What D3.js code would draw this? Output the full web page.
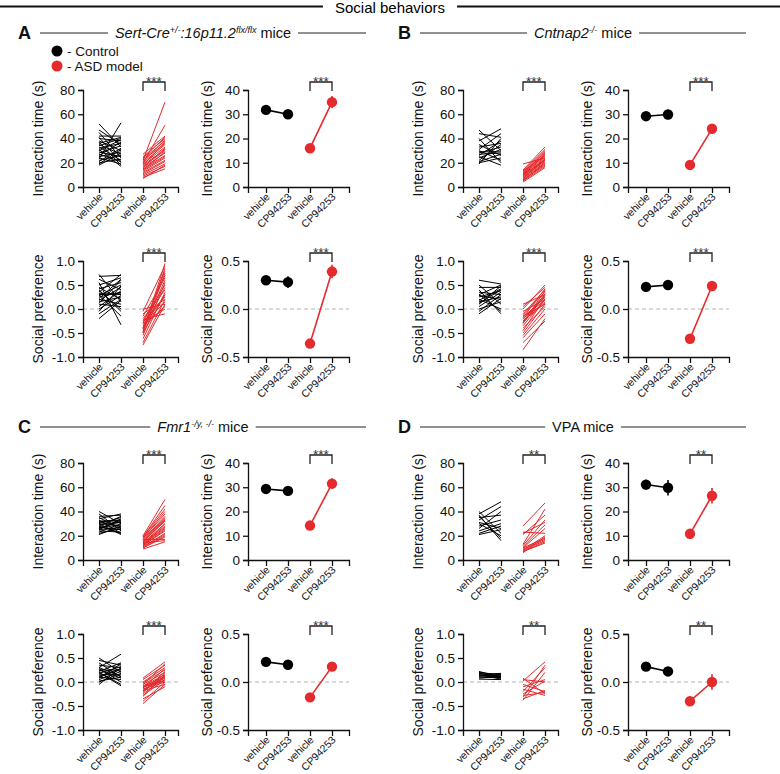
<!DOCTYPE html>
<html><head><meta charset="utf-8">
<script src="https://cdn.jsdelivr.net/npm/d3@7"></script>
<style>
body{margin:0;background:#fff}
text{font-family:"Liberation Sans",Arial,Helvetica,sans-serif}
</style>
</head><body>
<svg id="c" width="780" height="774"></svg>
<script>
// ---------------- DATA ----------------
const groupLabels = ["vehicle", "CP94253", "vehicle", "CP94253"];
const legendLabels = ["- Control", "- ASD model"];
const panelLetters = ["A", "B", "C", "D"];
const sigLabels = ["***", "***", "***", "**"];
const itTicks = [0, 20, 40, 60, 80];
const itMeanTicks = [0, 10, 20, 30, 40];
const spTicks = [-1, -0.5, 0, 0.5, 1];
const spMeanTicks = [-0.5, 0, 0.5];
const yTitleIT = "Interaction time (s)";
const yTitleSP = "Social preference";

// Panel A: Sert-Cre+/-:16p11.2 flx/flx
const A_itCtrlVeh = [52, 47, 45, 42, 41, 40, 38, 37, 36, 35, 34, 33, 32, 31, 30, 29, 28, 27, 26, 25, 24, 23, 22, 21, 20, 19, 18];
const A_itCtrlCp  = [33, 35, 24, 42, 20, 38, 30, 18, 41, 27, 40, 22, 36, 17, 39, 25, 34, 21, 37, 29, 19, 53, 26, 32, 23, 31, 28];
const A_itAsdVeh  = [22, 20, 27, 25, 24, 23, 22, 21, 20, 19, 18, 17, 16, 16, 15, 14, 14, 13, 12, 11, 10, 9, 8, 7, 18];
const A_itAsdCp   = [70, 51, 42, 40, 41, 38, 36, 39, 35, 33, 37, 30, 28, 32, 26, 29, 25, 24, 22, 21, 19, 17, 15, 18, 31];
const A_spCtrlVeh = [0.72, 0.68, 0.62, 0.55, 0.5, 0.45, 0.42, 0.38, 0.35, 0.32, 0.3, 0.28, 0.25, 0.22, 0.2, 0.18, 0.15, 0.12, 0.1, 0.05, 0.0, -0.05, -0.1, -0.2, 0.4, 0.3];
const A_spCtrlCp  = [0.15, 0.7, 0.4, -0.33, 0.65, 0.2, 0.55, 0.0, 0.72, 0.3, -0.15, 0.5, 0.35, 0.62, 0.1, 0.45, 0.25, 0.6, 0.05, 0.38, 0.28, 0.48, 0.2, 0.18, -0.05, 0.33];
const A_spAsdVeh  = [-0.75, -0.7, -0.62, -0.55, -0.5, -0.48, -0.45, -0.42, -0.4, -0.38, -0.35, -0.33, -0.3, -0.28, -0.25, -0.22, -0.2, -0.15, -0.1, -0.05, 0.0, -0.3, -0.4, -0.5];
const A_spAsdCp   = [0.1, 0.2, 0.35, 0.55, 0.75, 0.95, 0.85, 0.6, 0.45, 0.3, 0.05, 0.15, 0.7, 0.25, 0.5, -0.1, 0.4, 0.65, 0.2, 0.9, 0.1, 0.0, 0.8, 0.3];
const A_itMeanCtrl = [31.8, 30.0], A_itSemCtrl = [1.5, 1.3];
const A_itMeanAsd  = [16.0, 35.0], A_itSemAsd  = [0.8, 2.5];
const A_spMeanCtrl = [0.30, 0.28], A_spSemCtrl = [0.05, 0.06];
const A_spMeanAsd  = [-0.36, 0.39], A_spSemAsd = [0.03, 0.07];

// Panel B: Cntnap2-/-
const B_itCtrlVeh = [47, 44, 40, 38, 35, 33, 31, 30, 28, 27, 26, 25, 24, 22, 21, 20, 19, 29];
const B_itCtrlCp  = [30, 41, 20, 48, 26, 36, 44, 22, 33, 28, 38, 18, 31, 35, 27, 24, 40, 29];
const B_itAsdVeh  = [19, 14, 13, 12, 12, 11, 11, 10, 10, 9, 9, 8, 8, 7, 7, 6, 6, 5, 5, 4, 13, 10];
const B_itAsdCp   = [24, 33, 31, 30, 28, 29, 26, 27, 25, 24, 23, 22, 21, 23, 20, 19, 18, 17, 20, 16, 26, 22];
const B_spCtrlVeh = [0.6, 0.5, 0.45, 0.4, 0.35, 0.3, 0.28, 0.25, 0.2, 0.18, 0.15, 0.1, 0.05, 0.0, -0.05, -0.1, 0.3, 0.12];
const B_spCtrlCp  = [0.52, 0.1, 0.45, -0.1, 0.3, 0.5, 0.2, 0.38, 0.0, 0.42, 0.25, 0.48, 0.35, 0.15, 0.3, 0.22, -0.05, 0.4];
const B_spAsdVeh  = [0.1, 0.05, 0.0, -0.05, -0.1, -0.12, -0.15, -0.18, -0.2, -0.22, -0.25, -0.28, -0.3, -0.35, -0.4, -0.45, -0.5, -0.55, -0.6, -0.7, -0.85, -0.3, -0.15, -0.25];
const B_spAsdCp   = [0.3, 0.45, 0.5, 0.2, 0.4, 0.35, 0.1, 0.42, 0.25, 0.3, 0.15, 0.38, 0.28, 0.2, 0.05, 0.22, 0.1, 0.0, -0.1, -0.25, -0.2, 0.32, 0.18, 0.12];
const B_itMeanCtrl = [29.2, 29.9], B_itSemCtrl = [1.5, 2.0];
const B_itMeanAsd  = [9.1, 24.0],  B_itSemAsd  = [0.8, 1.0];
const B_spMeanCtrl = [0.23, 0.25], B_spSemCtrl = [0.04, 0.03];
const B_spMeanAsd  = [-0.31, 0.24], B_spSemAsd = [0.05, 0.03];

// Panel C: Fmr1-/y, -/-
const C_itCtrlVeh = [40, 38, 36, 35, 34, 33, 32, 31, 30, 30, 29, 28, 27, 27, 26, 25, 25, 24, 23, 22, 21, 28, 32, 26];
const C_itCtrlCp  = [30, 24, 37, 26, 38, 22, 33, 28, 35, 21, 31, 36, 25, 29, 32, 27, 34, 23, 30, 26, 28, 22, 31, 33];
const C_itAsdVeh  = [20, 19, 19, 18, 18, 17, 16, 16, 15, 15, 14, 14, 13, 13, 12, 12, 11, 11, 10, 10, 9, 17, 14, 12];
const C_itAsdCp   = [50, 45, 42, 40, 38, 36, 35, 34, 33, 32, 30, 28, 27, 26, 25, 24, 22, 21, 20, 19, 15, 17, 16, 30];
const C_spCtrlVeh = [0.5, 0.45, 0.4, 0.35, 0.3, 0.28, 0.25, 0.22, 0.2, 0.18, 0.15, 0.12, 0.1, 0.08, 0.05, 0.02, 0.0, -0.05, 0.3, 0.2, 0.1, 0.25];
const C_spCtrlCp  = [0.2, 0.35, 0.1, 0.3, 0.58, 0.0, 0.25, 0.4, -0.08, 0.32, 0.15, 0.28, 0.05, 0.38, 0.22, 0.1, 0.18, 0.3, 0.12, -0.05, 0.26, 0.08];
const C_spAsdVeh  = [0.08, 0.05, 0.0, -0.02, -0.05, -0.08, -0.1, -0.1, -0.12, -0.15, -0.15, -0.18, -0.2, -0.22, -0.25, -0.28, -0.3, -0.35, -0.4, -0.45, -0.12, -0.18, -0.05, -0.1];
const C_spAsdCp   = [0.42, 0.35, 0.3, 0.25, 0.2, 0.15, 0.12, 0.1, 0.08, 0.05, 0.0, -0.05, 0.18, 0.22, 0.1, 0.05, 0.15, -0.1, 0.0, -0.05, 0.28, 0.1, 0.38, 0.02];
const C_itMeanCtrl = [29.3, 28.5], C_itSemCtrl = [0.9, 1.0];
const C_itMeanAsd  = [14.2, 31.5], C_itSemAsd  = [0.7, 2.2];
const C_spMeanCtrl = [0.21, 0.18], C_spSemCtrl = [0.03, 0.03];
const C_spMeanAsd  = [-0.16, 0.16], C_spSemAsd = [0.03, 0.03];

// Panel D: VPA
const D_itCtrlVeh = [40, 38, 37, 35, 33, 31, 30, 28, 26, 24, 22, 21, 36];
const D_itCtrlCp  = [22, 48, 16, 37, 44, 26, 20, 33, 40, 30, 28, 25, 18];
const D_itAsdVeh  = [28, 23, 21, 13, 12, 11, 10, 10, 9, 8, 8, 7, 7, 6, 22];
const D_itAsdCp   = [47, 22, 37, 42, 33, 29, 18, 26, 17, 16, 20, 15, 14, 19, 31];
const D_spCtrlVeh = [0.22, 0.2, 0.19, 0.18, 0.16, 0.15, 0.14, 0.13, 0.12, 0.1, 0.08, 0.06];
const D_spCtrlCp  = [0.1, 0.15, 0.08, 0.12, 0.18, 0.06, 0.14, 0.1, 0.16, 0.09, 0.12, 0.05];
const D_spAsdVeh  = [0.08, 0.05, 0.02, -0.05, -0.1, -0.15, -0.2, -0.25, -0.28, -0.32, -0.35, -0.38];
const D_spAsdCp   = [-0.25, 0.0, 0.42, -0.2, 0.05, -0.28, 0.3, 0.02, -0.22, 0.35, -0.18, 0.2];
const D_itMeanCtrl = [31.1, 29.8], D_itSemCtrl = [2.0, 3.2];
const D_itMeanAsd  = [10.8, 26.5], D_itSemAsd  = [2.0, 3.2];
const D_spMeanCtrl = [0.16, 0.11], D_spSemCtrl = [0.02, 0.02];
const D_spMeanAsd  = [-0.20, 0.0], D_spSemAsd  = [0.05, 0.08];

// ---------------- DRAWING ----------------
const RED = "#e42a2d";
const svg = d3.select("#c");

const panels = [
  {letter: panelLetters[0], px: 0, py: 0, hy: 33, sig: sigLabels[0],
   title: [["Sert-Cre", "i"], ["+/-", "is"], [":16p11.2", "i"], ["flx/flx", "is"], [" mice", "n"]],
   it: [A_itCtrlVeh, A_itCtrlCp, A_itAsdVeh, A_itAsdCp], sp: [A_spCtrlVeh, A_spCtrlCp, A_spAsdVeh, A_spAsdCp],
   itM: [A_itMeanCtrl, A_itSemCtrl, A_itMeanAsd, A_itSemAsd], spM: [A_spMeanCtrl, A_spSemCtrl, A_spMeanAsd, A_spSemAsd]},
  {letter: panelLetters[1], px: 380, py: 0, hy: 33, sig: sigLabels[1],
   title: [["Cntnap2", "i"], ["-/-", "is"], [" mice", "n"]],
   it: [B_itCtrlVeh, B_itCtrlCp, B_itAsdVeh, B_itAsdCp], sp: [B_spCtrlVeh, B_spCtrlCp, B_spAsdVeh, B_spAsdCp],
   itM: [B_itMeanCtrl, B_itSemCtrl, B_itMeanAsd, B_itSemAsd], spM: [B_spMeanCtrl, B_spSemCtrl, B_spMeanAsd, B_spSemAsd]},
  {letter: panelLetters[2], px: 0, py: 373, hy: 54, sig: sigLabels[2],
   title: [["Fmr1", "i"], ["-/y, -/-", "is"], [" mice", "n"]],
   it: [C_itCtrlVeh, C_itCtrlCp, C_itAsdVeh, C_itAsdCp], sp: [C_spCtrlVeh, C_spCtrlCp, C_spAsdVeh, C_spAsdCp],
   itM: [C_itMeanCtrl, C_itSemCtrl, C_itMeanAsd, C_itSemAsd], spM: [C_spMeanCtrl, C_spSemCtrl, C_spMeanAsd, C_spSemAsd]},
  {letter: panelLetters[3], px: 380, py: 373, hy: 54, sig: sigLabels[3],
   title: [["VPA mice", "n"]],
   it: [D_itCtrlVeh, D_itCtrlCp, D_itAsdVeh, D_itAsdCp], sp: [D_spCtrlVeh, D_spCtrlCp, D_spAsdVeh, D_spAsdCp],
   itM: [D_itMeanCtrl, D_itSemCtrl, D_itMeanAsd, D_itSemAsd], spM: [D_spMeanCtrl, D_spSemCtrl, D_spMeanAsd, D_spSemAsd]}
];

// Main title
{
  const t = svg.append("text").attr("x", 390).attr("y", 12.5).attr("text-anchor", "middle")
    .attr("font-size", 15).text("Social behaviors");
  const w = t.node().getComputedTextLength();
  svg.append("line").attr("x1", 0).attr("x2", 390 - w / 2 - 12).attr("y1", 6.5).attr("y2", 6.5)
    .attr("stroke", "#111").attr("stroke-width", 2);
  svg.append("line").attr("x1", 390 + w / 2 + 12).attr("x2", 780).attr("y1", 6.5).attr("y2", 6.5)
    .attr("stroke", "#111").attr("stroke-width", 2);
}

function fmtTick(row) {
  return row === "it" ? (d => String(d)) : (d => d.toFixed(1));
}

function drawPlot(g, kind, row, values, sig) {
  const ax = kind === "ind" ? 83 : 248, ex = kind === "ind" ? 178 : 349;
  const x0 = kind === "ind" ? 99 : 266;
  const yt = row === "it" ? 90 : 261, yb = row === "it" ? 187 : 357;
  const x = d3.scaleLinear().domain([0, 3]).range([x0, x0 + 66]);
  x.domain([x.invert(ax), x.invert(ex)]).range([ax, ex]);
  let yDom, ticks;
  if (kind === "ind") { yDom = row === "it" ? [0, 80] : [-1, 1]; ticks = row === "it" ? itTicks : spTicks; }
  else { yDom = row === "it" ? [0, 40] : [-0.5, 0.5]; ticks = row === "it" ? itMeanTicks : spMeanTicks; }
  const y = d3.scaleLinear().domain(yDom).range([yb, yt]);

  // zero line
  if (row === "sp") {
    g.append("line").attr("x1", ax).attr("x2", ex).attr("y1", y(0)).attr("y2", y(0))
      .attr("stroke", "#b4b4b4").attr("stroke-width", 1).attr("stroke-dasharray", "4,3");
  }

  // axes
  const xa = g.append("g").attr("transform", `translate(0,${yb})`)
    .call(d3.axisBottom(x).tickValues([0, 1, 2, 3]).tickSizeOuter(0).tickSize(6).tickFormat((d, i) => groupLabels[i]));
  xa.select(".domain").attr("stroke", "#111").attr("stroke-width", 1.3);
  xa.selectAll(".tick line").attr("stroke", "#111").attr("stroke-width", 1.3);
  xa.selectAll(".tick text").attr("x", 0).attr("y", 0).attr("dy", 0)
    .attr("transform", "translate(4,10.5) rotate(-45)").style("text-anchor", "end")
    .attr("font-size", 10.5).attr("font-family", null).attr("fill", "#111");

  const ya = g.append("g").attr("transform", `translate(${ax},0)`)
    .call(d3.axisLeft(y).tickValues(ticks).tickSizeOuter(0).tickSize(5).tickPadding(3).tickFormat(fmtTick(row)));
  ya.select(".domain").attr("stroke", "#111").attr("stroke-width", 1.3);
  ya.selectAll(".tick line").attr("stroke", "#111").attr("stroke-width", 1.3);
  ya.selectAll(".tick text").attr("font-size", 13.5).attr("font-family", null).attr("fill", "#111");

  // y title
  const tx = kind === "ind" ? 43 : 212;
  g.append("text").attr("transform", `translate(${tx},${(yt + yb) / 2}) rotate(-90)`)
    .attr("text-anchor", "middle").attr("font-size", 14).attr("fill", "#111")
    .text(row === "it" ? yTitleIT : yTitleSP);

  // data
  if (kind === "ind") {
    const [cv, cc, av, ac] = values;
    cv.forEach((v, i) => g.append("line").attr("x1", x(0)).attr("y1", y(v)).attr("x2", x(1)).attr("y2", y(cc[i]))
      .attr("stroke", "#000").attr("stroke-width", 1));
    av.forEach((v, i) => g.append("line").attr("x1", x(2)).attr("y1", y(v)).attr("x2", x(3)).attr("y2", y(ac[i]))
      .attr("stroke", RED).attr("stroke-width", 1));
  } else {
    const [mc, sc, ma, sa] = values;
    const series = [[mc, sc, 0, "#000"], [ma, sa, 2, RED]];
    series.forEach(([m, s, off, col]) => {
      g.append("line").attr("x1", x(off)).attr("y1", y(m[0])).attr("x2", x(off + 1)).attr("y2", y(m[1]))
        .attr("stroke", col).attr("stroke-width", 1.6);
      m.forEach((v, j) => {
        g.append("line").attr("x1", x(off + j)).attr("x2", x(off + j)).attr("y1", y(v - s[j])).attr("y2", y(v + s[j]))
          .attr("stroke", col).attr("stroke-width", 1.6);
        g.append("circle").attr("cx", x(off + j)).attr("cy", y(v)).attr("r", 5.2).attr("fill", col);
      });
    });
  }

  // significance bracket
  const bt = yt - 8, bl = yt + 1;
  g.append("path").attr("d", `M${x(2)},${bl}V${bt}H${x(3)}V${bl}`).attr("fill", "none")
    .attr("stroke", "#222").attr("stroke-width", 1.3);
  g.append("text").attr("x", (x(2) + x(3)) / 2).attr("y", bt + 3.5).attr("text-anchor", "middle")
    .attr("font-size", 13.5).attr("fill", "#333").text(sig);
}

panels.forEach(p => {
  const g = svg.append("g").attr("transform", `translate(${p.px},${p.py})`);
  // header
  g.append("text").attr("x", 18).attr("y", p.hy + 6).attr("font-size", 18).attr("font-weight", "bold")
    .attr("fill", "#111").text(p.letter);
  const t = g.append("text").attr("x", 203).attr("y", p.hy + 5).attr("text-anchor", "middle")
    .attr("font-size", 14.5).attr("fill", "#111");
  let sup = false;
  p.title.forEach(([s, st]) => {
    const ts = t.append("tspan").text(s);
    if (st.includes("i")) ts.attr("font-style", "italic");
    if (st.includes("s")) { ts.attr("font-size", 9).attr("dy", sup ? 0 : -5.5); sup = true; }
    else { if (sup) ts.attr("dy", 5.5); sup = false; }
  });
  const w = t.node().getComputedTextLength();
  g.append("line").attr("x1", 40).attr("x2", 203 - w / 2 - 7).attr("y1", p.hy).attr("y2", p.hy)
    .attr("stroke", "#222").attr("stroke-width", 1.2);
  g.append("line").attr("x1", 203 + w / 2 + 7).attr("x2", 366).attr("y1", p.hy).attr("y2", p.hy)
    .attr("stroke", "#222").attr("stroke-width", 1.2);

  drawPlot(g.append("g"), "ind", "it", p.it, p.sig);
  drawPlot(g.append("g"), "mean", "it", p.itM, p.sig);
  drawPlot(g.append("g"), "ind", "sp", p.sp, p.sig);
  drawPlot(g.append("g"), "mean", "sp", p.spM, p.sig);
});

// legend (panel A)
[["#000", 51], [RED, 66]].forEach(([c, yy], i) => {
  svg.append("circle").attr("cx", 57).attr("cy", yy).attr("r", 5.5).attr("fill", c);
  svg.append("text").attr("x", 67).attr("y", yy + 5).attr("font-size", 13.5).attr("fill", "#111").text(legendLabels[i]);
});
</script>
</body></html>
